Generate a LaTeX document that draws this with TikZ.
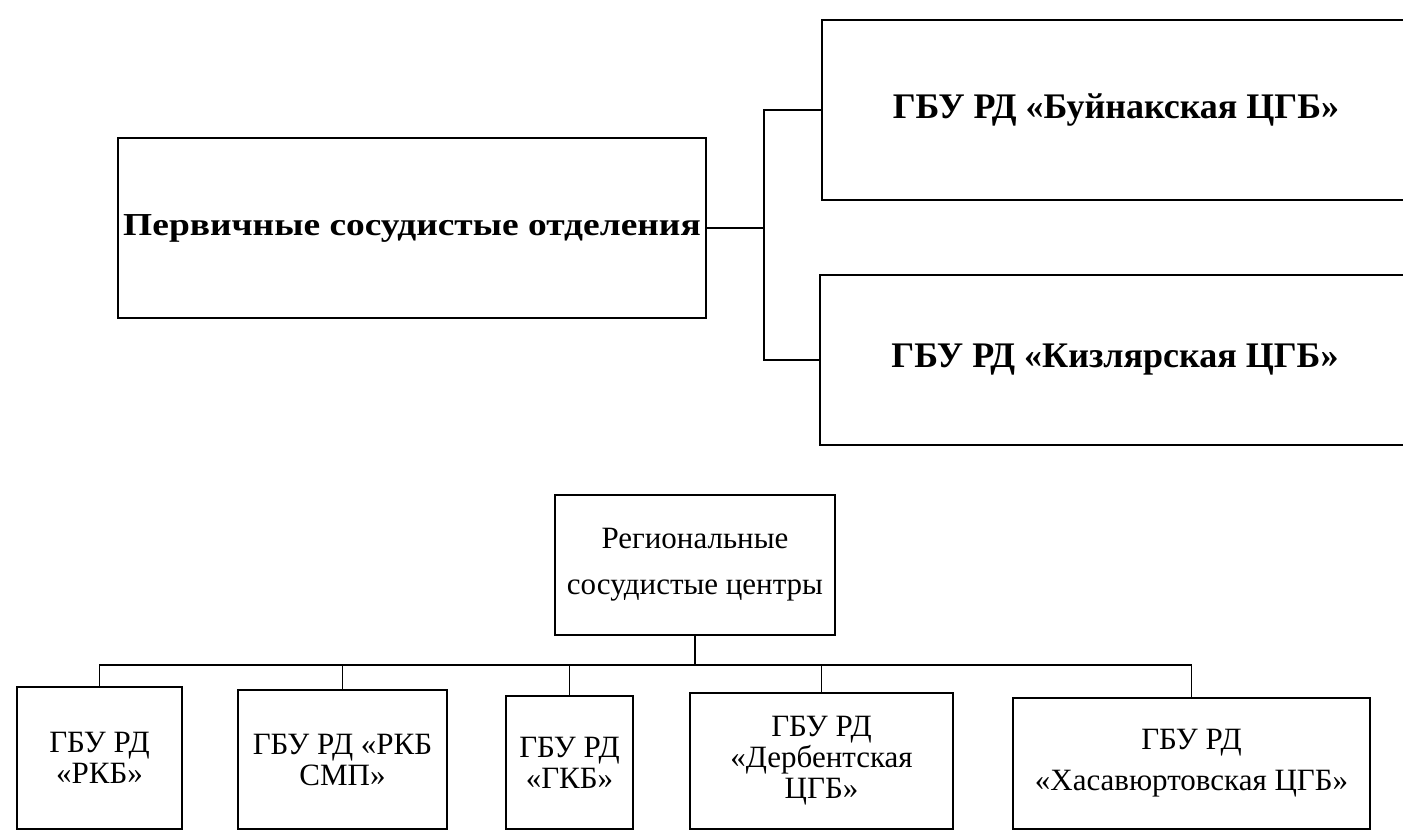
\documentclass[tikz,border=0pt]{standalone}
\usepackage{fontspec}
\setmainfont{Liberation Serif}
\usepackage{graphicx}
\usetikzlibrary{positioning}

\begin{document}
\begin{tikzpicture}[x=1pt, y=-1pt,
		line width=1.8pt,
		box/.style={draw, rectangle, inner sep=0pt, align=center, font=\fontsize{31}{31}\selectfont},
		bigbox/.style={box, font=\bfseries\fontsize{36}{43}\selectfont}]
	\useasboundingbox (0,0) rectangle (1403,832);
	\node at (412,228) (prim) [bigbox, minimum width=588, minimum height=180] {\raisebox{-8pt}{\scalebox{1.17}[1]{\fontsize{32}{36}\selectfont Первичные сосудистые отделения}}};
	\node at (1116,110) (buy) [bigbox, minimum width=588, minimum height=180] {ГБУ РД «Буйнакская ЦГБ»};
	\node at (1115,360) (kiz) [bigbox, minimum width=590, minimum height=170] {ГБУ РД «Кизлярская ЦГБ»};
	\coordinate (jA) at (764,228);
	\draw (prim.east) -- (jA);
	\draw (jA) |- (buy.west);
	\draw (jA) |- (kiz.west);
	\node at (695,565) (reg) [box, minimum width=280, minimum height=140, font=\fontsize{31}{46}\selectfont] {Региональные\\сосудистые центры};
	\node at (99.5,758) (rkb) [box, minimum width=165, minimum height=142] {ГБУ РД\\«РКБ»};
	\node at (342.5,759.5) (smp) [box, minimum width=209, minimum height=139] {ГБУ РД «РКБ\\СМП»};
	\node at (569.5,762.5) (gkb) [box, minimum width=127, minimum height=133] {ГБУ РД\\«ГКБ»};
	\node at (821.5,761) (derb) [box, minimum width=263, minimum height=136] {ГБУ РД\\«Дербентская\\ЦГБ»};
	\node at (1191.5,763.5) (khas) [box, minimum width=357, minimum height=131] {ГБУ РД\\[10pt]«Хасавюртовская ЦГБ»};
	\coordinate (bus) at (695,665);
	\draw (reg.south) -- (bus);
	\draw (rkb.north) |- (bus) -| (khas.north);
	\foreach \n in {smp, gkb, derb}
		\draw (\n.north) -- (\n.north |- bus);
\end{tikzpicture}
\end{document}
